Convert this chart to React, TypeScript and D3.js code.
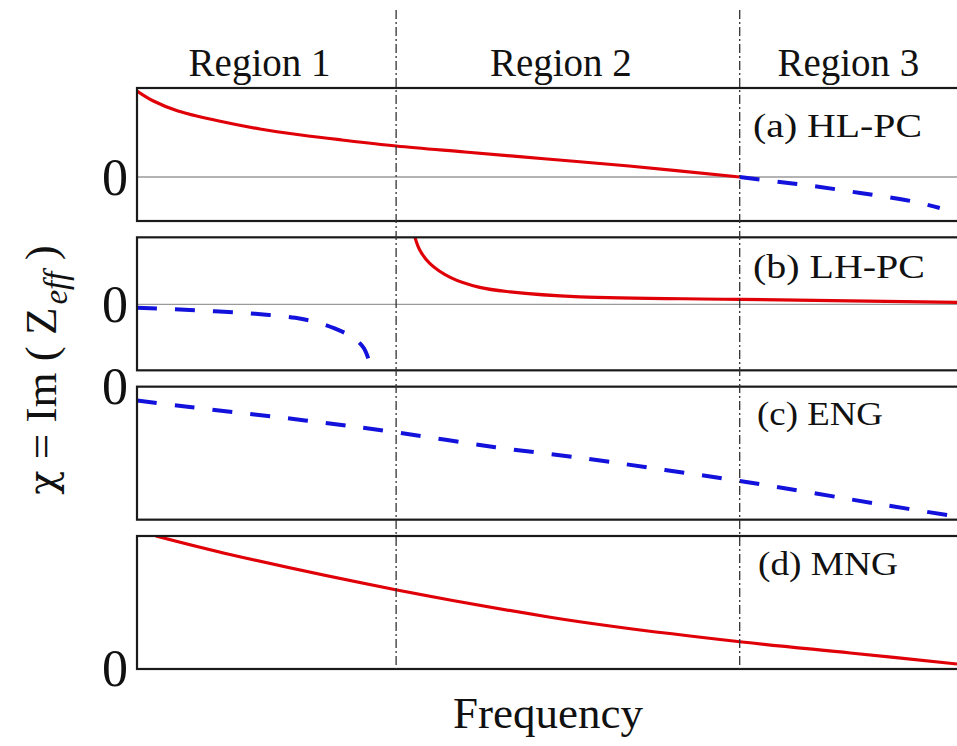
import React from "react";
import * as d3 from "d3";

// ---------- data ----------
const regionBounds = [31.6, 73.5]; // frequency (0-100) at region borders
const regionLabels = ["Region 1", "Region 2", "Region 3"];
const panelLabels = ["(a) HL-PC", "(b) LH-PC", "(c) ENG", "(d) MNG"];
const zeroTickLabel = "0";

// y-domains of the four panels (arbitrary units)
const panelDomains: [number, number][] = [
  [-4.4, 8.9],
  [-6.6, 6.7],
  [-13.4, 0],
  [0, 13.3],
];

// (a) HL-PC
const hlpcPositive: [number, number][] = [
  [0, 8.6], [2, 7.6], [5, 6.6], [10, 5.6], [15, 4.8], [20, 4.2], [25, 3.7],
  [31.6, 3.1], [40, 2.5], [50, 1.8], [60, 1.1], [73.5, 0],
];
const hlpcNegative: [number, number][] = [
  [73.5, 0], [78.4, -0.5], [83.3, -1.0], [88.2, -1.6], [93.0, -2.2], [95.5, -2.6], [97.9, -3.1],
];
// (b) LH-PC
const lhpcNegative: [number, number][] = [
  [0, -0.35], [4.6, -0.5], [9.5, -0.7], [14.4, -0.95], [19.3, -1.35], [21.7, -1.75],
  [24.1, -2.4], [26.3, -3.3], [27.6, -4.3], [28.2, -5.4],
];
const lhpcPositive: [number, number][] = [
  [33.9, 6.7], [34.5, 5.4], [35.7, 4.1], [38.2, 2.7], [41.8, 1.7], [45.5, 1.25],
  [54, 0.75], [73.5, 0.5], [100, 0.2],
];
// (c) ENG
const engNegative: [number, number][] = [
  [0, -1.4], [5.9, -2.0], [20.5, -3.4], [31.6, -4.6], [43.7, -6.1], [54.8, -7.25],
  [64.4, -8.4], [73.5, -9.5], [91, -11.9], [100, -13.1],
];
// (d) MNG
const mngPositive: [number, number][] = [
  [2.3, 13.3], [11.6, 11.4], [31.7, 7.9], [50.2, 5.2], [57.7, 4.3], [73.8, 2.7],
  [87, 1.6], [100, 0.5],
];

const panelSeries: { data: [number, number][]; kind: "pos" | "neg" }[][] = [
  [{ data: hlpcPositive, kind: "pos" }, { data: hlpcNegative, kind: "neg" }],
  [{ data: lhpcNegative, kind: "neg" }, { data: lhpcPositive, kind: "pos" }],
  [{ data: engNegative, kind: "neg" }],
  [{ data: mngPositive, kind: "pos" }],
];

// ---------- layout ----------
const W = 957;
const H = 746;
const left = 137;
const right = 957;
const panelTop = 88;
const panelH = 133;
const panelStep = 149.33;
const RED = "#e00008";
const BLUE = "#1212dc";
const FONT = "'Liberation Serif', 'Times New Roman', serif";

const panelLabelPos = [
  { x: 753, y: 137, len: 169 },
  { x: 753, y: 278, len: 172 },
  { x: 757, y: 425, len: 126 },
  { x: 758, y: 575, len: 140 },
];

export default function App() {
  const x = d3.scaleLinear().domain([0, 100]).range([left, right]);
  const bottomAll = panelTop + 3 * panelStep + panelH;
  const regionEdges = [0, ...regionBounds, 100];

  return (
    <svg
      width={W}
      height={H}
      viewBox={`0 0 ${W} ${H}`}
      style={{ position: "absolute", left: 0, top: 0, background: "#fff" }}
      fontFamily={FONT}
    >
      <rect x={0} y={0} width={W} height={H} fill="#fff" />
      {/* region labels */}
      {regionLabels.map((lab, i) => {
        const cx = (x(regionEdges[i]) + x(regionEdges[i + 1])) / 2 - (i < 2 ? 7 : 0);
        return (
          <text key={lab} x={cx} y={76} fontSize={39} textAnchor="middle" fill="#111">
            {lab}
          </text>
        );
      })}

      {panelDomains.map((dom, i) => {
        const top = panelTop + i * panelStep;
        const y = d3.scaleLinear().domain(dom).range([top + panelH, top]);
        const line = d3
          .line<[number, number]>()
          .x((d) => x(d[0]))
          .y((d) => y(d[1]))
          .curve(d3.curveCatmullRom.alpha(0.5));
        const showZeroLine = dom[0] < 0 && dom[1] > 0;
        return (
          <g key={i}>
            <defs>
              <clipPath id={`clip${i}`}>
                <rect x={left} y={top - 1} width={right - left + 10} height={panelH + 2} />
              </clipPath>
            </defs>
            {showZeroLine && (
              <line x1={left} x2={right + 5} y1={y(0)} y2={y(0)} stroke="#9a9a9a" strokeWidth={1.3} />
            )}
            <g clipPath={`url(#clip${i})`}>
              {panelSeries[i].map((s, j) => (
                <path
                  key={j}
                  d={line(s.data) || ""}
                  fill="none"
                  stroke={s.kind === "pos" ? RED : BLUE}
                  strokeWidth={s.kind === "pos" ? 3.2 : 4}
                  strokeDasharray={s.kind === "pos" ? undefined : "20 18"}
                  strokeLinecap="butt"
                />
              ))}
            </g>
            <rect
              x={left}
              y={top}
              width={right - left + 20}
              height={panelH}
              fill="none"
              stroke="#1a1a1a"
              strokeWidth={2.2}
            />
            <text
              x={115}
              y={y(0)}
              fontSize={52}
              textAnchor="middle"
              dominantBaseline="central"
              fill="#111"
            >
              {zeroTickLabel}
            </text>
            <text
              x={panelLabelPos[i].x}
              y={panelLabelPos[i].y}
              fontSize={34}
              textLength={panelLabelPos[i].len}
              lengthAdjust="spacingAndGlyphs"
              fill="#111"
            >
              {panelLabels[i]}
            </text>
          </g>
        );
      })}

      {/* region boundaries */}
      {regionBounds.map((b) => (
        <line
          key={b}
          x1={x(b)}
          x2={x(b)}
          y1={10}
          y2={bottomAll}
          stroke="#333"
          strokeWidth={1.3}
          strokeDasharray="9 3 2 3"
        />
      ))}

      {/* axis titles */}
      <text x={548} y={728} fontSize={45} textAnchor="middle" fill="#111">
        Frequency
      </text>
      <text
        transform="translate(56,370) rotate(-90)"
        fontSize={45}
        textAnchor="middle"
        fill="#111"
      >
        <tspan fontFamily="'DejaVu Serif', serif" fontSize={40}>χ</tspan>
        {" = Im ( Z"}
        <tspan fontStyle="italic" fontSize={33} dx={3} dy={11}>
          eff
        </tspan>
        <tspan dy={-11}>{"  )"}</tspan>
      </text>
    </svg>
  );
}
